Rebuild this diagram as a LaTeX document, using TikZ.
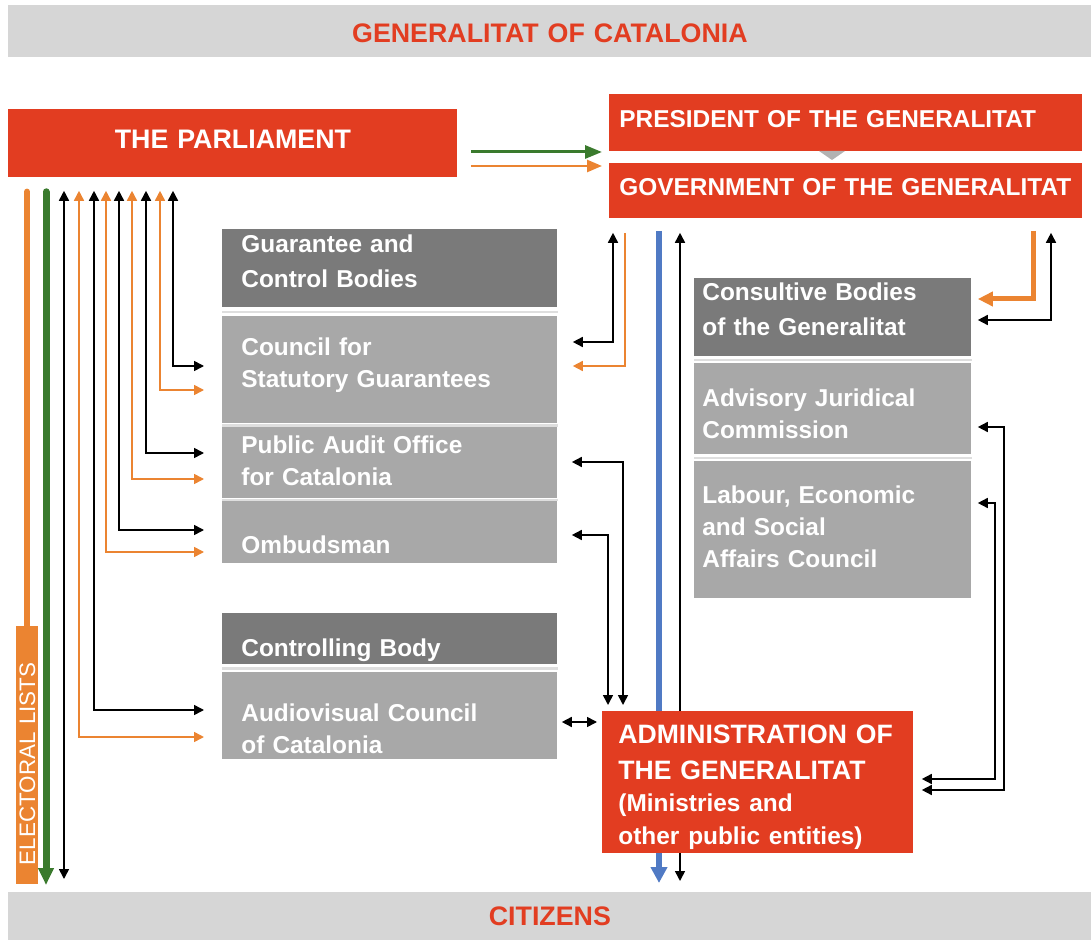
\documentclass[tikz,border=0pt]{standalone}
\usepackage{fontspec}
\setmainfont{Liberation Sans}
\usetikzlibrary{arrows.meta,calc,backgrounds}

\definecolor{catred}{RGB}{226,61,33}
\definecolor{darkbox}{RGB}{122,122,122}
\definecolor{lightbox}{RGB}{168,168,168}
\definecolor{barbg}{RGB}{214,214,214}
\definecolor{seprule}{RGB}{222,222,222}
\definecolor{catorange}{RGB}{235,132,49}
\definecolor{catgreen}{RGB}{58,122,45}
\definecolor{catblue}{RGB}{80,122,196}

\tikzset{
  box/.style={anchor=north west, inner xsep=9.5pt, inner ysep=0pt, align=left,
    text=white, font=\fontsize{12.2}{16}\selectfont\bfseries},
  lbox/.style={box, fill=lightbox, text width=148.5pt},
  dbox/.style={lbox, fill=darkbox},
  rbox/.style={box, fill=lightbox, inner xsep=4pt, text width=130.5pt},
  rdbox/.style={rbox, fill=darkbox},
  redbox/.style={box, fill=catred},
  titlebar/.style={anchor=north west, fill=barbg, text=catred, inner sep=0pt,
    text width=541.5pt, align=center, font=\fontsize{13.4}{16}\selectfont\bfseries},
  ln/.style={line width=0.8pt, >={Triangle[length=5pt,width=5pt]}},
  blk/.style={ln, black},
  org/.style={ln, catorange},
  sepline/.style={seprule, line width=1.2pt},
}

\begin{document}
\begin{tikzpicture}[x=0.5pt, y=-0.5pt]
\useasboundingbox (0,0) rectangle (1091,940);

% bars
\node[titlebar, text height=18.5pt, text depth=7.5pt] (top) at (8,5) {GENERALITAT OF CATALONIA};
\node[titlebar, text height=16.5pt, text depth=7.5pt] (citz) at (8,892) {CITIZENS};

% red boxes
\node[redbox, inner xsep=0pt, text width=224.5pt, align=center,
  font=\fontsize{13.4}{16}\selectfont\bfseries, text height=19.5pt, text depth=14.5pt]
  (parl) at (8,109) {THE PARLIAMENT};
\node[redbox, inner xsep=5pt, text width=226.5pt, text height=16.5pt, text depth=12pt]
  (pres) at (609,94) {PRESIDENT OF THE GENERALITAT};
\node[redbox, inner xsep=5pt, text width=226.5pt, text height=16pt, text depth=11.5pt]
  (gov) at (609,163) {GOVERNMENT OF THE GENERALITAT};
\fill[gray!60] (819,151) -- (845,151) -- (832,160) -- cycle;
\node[redbox, inner xsep=8pt, text width=139.5pt, font=\fontsize{13.3}{16.25}\selectfont\bfseries,
  text height=16pt, text depth=55pt] (admin) at (602,711)
  {ADMINISTRATION OF\\[1.75pt]THE GENERALITAT\\{\fontsize{12.2}{16.25}\selectfont (Ministries and\\other public entities)}};

% guarantee and control bodies
\node[dbox, text height=11.5pt, text depth=27.5pt] (guar) at (222,229) {Guarantee and\\[1.5pt]Control Bodies};
\node[lbox, text height=19.5pt, text depth=34pt] (coun) at (222,316) {Council for\\Statutory Guarantees};
\node[lbox, text height=13pt, text depth=22.5pt] (audit) at (222,427) {Public Audit Office\\for Catalonia};
\node[lbox, text height=26pt, text depth=5pt] (ombu) at (222,501) {Ombudsman};
\node[dbox, text height=21.75pt, text depth=3.75pt] (ctrl) at (222,613) {Controlling Body};
\node[lbox, text height=24.5pt, text depth=19pt] (audio) at (222,672) {Audiovisual Council\\of Catalonia};

% consultive bodies
\node[rdbox, text height=11pt, text depth=28pt] (cons) at (694,278) {Consultive Bodies\\[1.5pt]of the Generalitat};
\node[rbox, text height=21.5pt, text depth=24pt] (advi) at (694,363) {Advisory Juridical\\Commission};
\node[rbox, text height=21pt, text depth=47.5pt] (labo) at (694,461) {Labour, Economic\\and Social\\Affairs Council};

\foreach \a/\b in {guar/coun, coun/audit, audit/ombu, ctrl/audio, cons/advi, advi/labo}
  \draw[sepline] ($(\a.south west)!.5!(\b.north west)$) -- ($(\a.south east)!.5!(\b.north east)$);

\node[fill=catorange, text=white, rotate=90, inner xsep=9.5pt, inner ysep=1.5pt, text width=110pt,
  align=left, text height=8pt, text depth=0pt, font=\fontsize{11.2}{13}\selectfont]
  (elec) at (27,755) {ELECTORAL LISTS};

% parliament
\foreach \bx/\ox/\by/\oy/\n in {173/160/366/390/coun, 146/132/453/479/audit,
    119/106/530/552/ombu, 94/79/710/737/audio}{
  \draw[blk, <->, shorten <=6.5pt, shorten >=9pt] (parl.south -| \bx,0) |- (\n.west |- 0,\by);
  \draw[org, <->, shorten <=6.5pt, shorten >=9pt] (parl.south -| \ox,0) |- (\n.west |- 0,\oy);
}
\draw[blk, <->, shorten <=6.5pt, shorten >=6.5pt] (parl.south -| 64,0) -- (citz.north -| 64,0);
\draw[catgreen, line width=3.5pt, line cap=round, -{Triangle[length=8.5pt,width=7.5pt]},
  shorten <=7pt, shorten >=3.5pt] (parl.south -| 46,0) -- (citz.north -| 46,0);
\draw[catorange, line width=3.2pt, line cap=round, shorten <=7pt] (parl.south -| elec.east) -- (elec.east);
\draw[catgreen, line width=1.5pt, -{Triangle[length=8.5pt,width=6.5pt]}, shorten <=6.5pt, shorten >=3.5pt]
  (parl.east |- 0,152) -- (pres.west |- 0,152);
\draw[catorange, line width=1.25pt, -{Triangle[length=7.5pt,width=6pt]}, shorten <=6.5pt, shorten >=3.5pt]
  (parl.east |- 0,166) -- (gov.west |- 0,166);

% government
\draw[blk, <->, shorten <=7pt, shorten >=7.5pt] (gov.south -| 613,0) |- (coun.east |- 0,342);
\draw[org, ->, shorten <=7pt, shorten >=7.5pt] (gov.south -| 625,0) |- (coun.east |- 0,366);
\draw[catorange, line width=2.5pt, -{Triangle[length=7.5pt,width=7pt]}, shorten <=6pt, shorten >=3pt]
  (gov.south -| 1033,0) |- (cons.east |- 0,299);
\draw[blk, <->, shorten <=7pt, shorten >=3pt] (gov.south -| 1051,0) |- (cons.east |- 0,320);
\begin{scope}[on background layer]
\draw[catblue, line width=3pt, -{Triangle[length=8pt,width=8pt]}, shorten <=6pt, shorten >=4.5pt]
  (gov.south -| 659,0) -- (citz.north -| 659,0);
\draw[blk, <->, shorten <=7pt, shorten >=5.5pt] (gov.south -| 680,0) -- (citz.north -| 680,0);
\end{scope}

% administration
\draw[blk, <->, shorten <=7pt, shorten >=3pt] (audit.east |- 0,462) -| (admin.north -| 623,0);
\draw[blk, <->, shorten <=7pt, shorten >=3pt] (ombu.east |- 0,535) -| (admin.north -| 608,0);
\draw[blk, <->, shorten <=2pt, shorten >=2.5pt] (audio.east |- 0,722) -- (admin.west |- 0,722);
\draw[blk, <->, shorten <=3pt, shorten >=4pt] (advi.east |- 0,427) -| (1004,760) |- (admin.east |- 0,790);
\draw[blk, <->, shorten <=3pt, shorten >=4pt] (labo.east |- 0,503) -| (995,760) |- (admin.east |- 0,779);
\end{tikzpicture}
\end{document}
